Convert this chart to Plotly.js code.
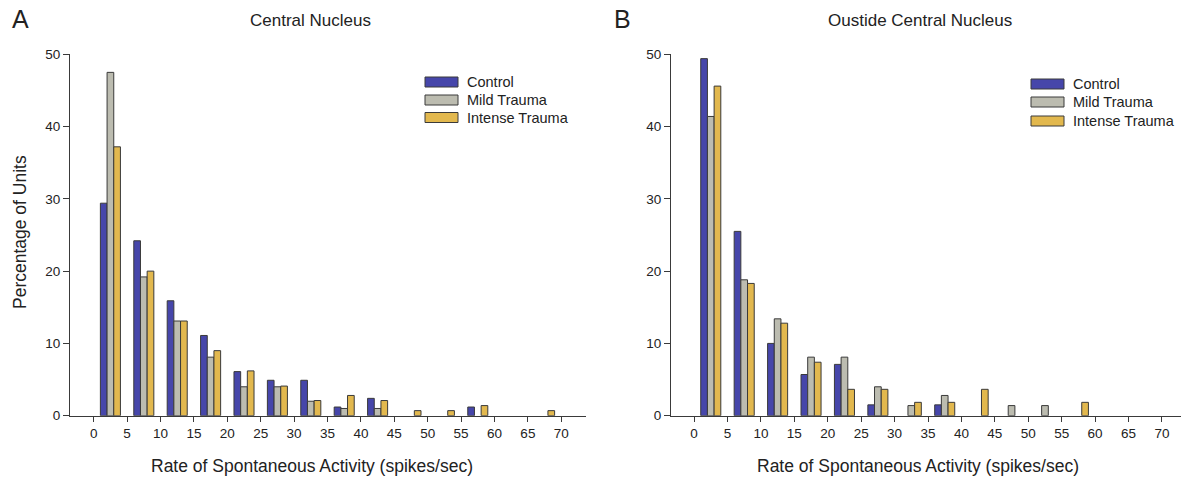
<!DOCTYPE html>
<html>
<head>
<meta charset="utf-8">
<script src="https://cdn.plot.ly/plotly-3.0.1.min.js"></script>
<style>html,body{margin:0;padding:0;background:#fff;}#chart{width:1181px;height:478px;}</style>
</head>
<body>
<div id="chart"></div>
<script>
// Bin centers (spikes/sec)
const binCenters = [2.5, 7.5, 12.5, 17.5, 22.5, 27.5, 32.5, 37.5, 42.5, 47.5, 52.5, 57.5, 62.5, 67.5];
const xTickVals = [0, 5, 10, 15, 20, 25, 30, 35, 40, 45, 50, 55, 60, 65, 70];
const yTickVals = [0, 10, 20, 30, 40, 50];
const seriesNames = ["Control", "Mild Trauma", "Intense Trauma"];

// Panel A: Central Nucleus
const controlA = [29.4, 24.2, 15.9, 11.1, 6.1, 4.9, 4.9, 1.2, 2.4, null, null, 1.2, null, null];
const mildA    = [47.5, 19.2, 13.1, 8.1, 4.0, 4.0, 2.0, 1.0, 1.0, null, null, null, null, null];
const intenseA = [37.2, 20.0, 13.1, 9.0, 6.2, 4.1, 2.1, 2.8, 2.1, 0.7, 0.7, 1.4, null, 0.7];

// Panel B: Outside Central Nucleus
const controlB = [49.4, 25.5, 10.0, 5.7, 7.1, 1.5, null, 1.5, null, null, null, null, null, null];
const mildB    = [41.4, 18.8, 13.4, 8.1, 8.1, 4.0, 1.4, 2.8, null, 1.4, 1.4, null, null, null];
const intenseB = [45.6, 18.3, 12.8, 7.4, 3.65, 3.65, 1.85, 1.85, 3.65, null, null, 1.85, null, null];

const colors = ["#4646aa", "#bcbcb0", "#e2b84e"];
const lineColor = "#3a3a3a";
const W = 1181, H = 478;
const px = v => v / W;
const py = v => 1 - v / H;

function bar(y, i, xa, ya) {
  return {
    type: "bar", x: binCenters, y: y, name: seriesNames[i],
    xaxis: xa, yaxis: ya, showlegend: false,
    marker: {color: colors[i], line: {color: lineColor, width: 1}}
  };
}

const data = [
  bar(controlA, 0, "x", "y"), bar(mildA, 1, "x", "y"), bar(intenseA, 2, "x", "y"),
  bar(controlB, 0, "x2", "y2"), bar(mildB, 1, "x2", "y2"), bar(intenseB, 2, "x2", "y2")
];

const font = "Liberation Sans, Arial, sans-serif";
const xBase = {
  tickmode: "array", tickvals: xTickVals, ticks: "outside", ticklen: 5, tickwidth: 1,
  tickcolor: lineColor, showline: true, linecolor: lineColor, linewidth: 1,
  showgrid: false, zeroline: false, fixedrange: true,
  tickfont: {family: font, size: 13.5, color: "#222"}
};
const yBase = {
  tickmode: "array", tickvals: yTickVals, ticks: "outside", ticklen: 6, tickwidth: 1,
  tickcolor: lineColor, showline: true, linecolor: lineColor, linewidth: 1,
  showgrid: false, zeroline: false, range: [0, 50], fixedrange: true,
  tickfont: {family: font, size: 13.5, color: "#222"},
  domain: [py(415.7), py(54.3)]
};

const annotations = [];
const shapes = [];
function txt(t, x, y, size, anchor, extra) {
  annotations.push(Object.assign({
    text: t, xref: "paper", yref: "paper", x: px(x), y: py(y),
    xanchor: anchor || "center", yanchor: "middle", showarrow: false,
    font: {family: font, size: size, color: "#222"}
  }, extra || {}));
}
txt("A", 10, 19, 25, "left");
txt("B", 612, 19, 25, "left");
txt("Central Nucleus", 310, 21, 17);
txt("Oustide Central Nucleus", 920, 21, 17);
txt("Rate of Spontaneous Activity (spikes/sec)", 312, 466, 17.5);
txt("Rate of Spontaneous Activity (spikes/sec)", 918, 466, 17.5);
txt("Percentage of Units", 20, 232, 17.5, "center", {textangle: -90});

function legend(x0, ys) {
  ys.forEach((yc, i) => {
    shapes.push({type: "rect", xref: "paper", yref: "paper",
      x0: px(x0), x1: px(x0 + 33), y0: py(yc - 5), y1: py(yc + 5),
      fillcolor: colors[i], line: {color: lineColor, width: 1}});
    txt(seriesNames[i], x0 + 40, yc, 14.5, "left");
  });
}
legend(425, [82, 100, 117.5]);
legend(1031, [84, 102, 121]);

const layout = {
  width: W, height: H,
  margin: {l: 0, r: 0, t: 0, b: 0},
  paper_bgcolor: "#fff", plot_bgcolor: "#fff",
  barmode: "group", bargap: 0.4, bargroupgap: 0,
  xaxis: Object.assign({}, xBase, {domain: [px(70), px(586)], range: [-3.55, 73.7], anchor: "y"}),
  yaxis: Object.assign({}, yBase, {anchor: "x"}),
  xaxis2: Object.assign({}, xBase, {domain: [px(671), 1], range: [-3.45, 72.85], anchor: "y2"}),
  yaxis2: Object.assign({}, yBase, {anchor: "x2"}),
  annotations: annotations,
  shapes: shapes
};

Plotly.newPlot("chart", data, layout, {staticPlot: true, displayModeBar: false});
</script>
</body>
</html>
